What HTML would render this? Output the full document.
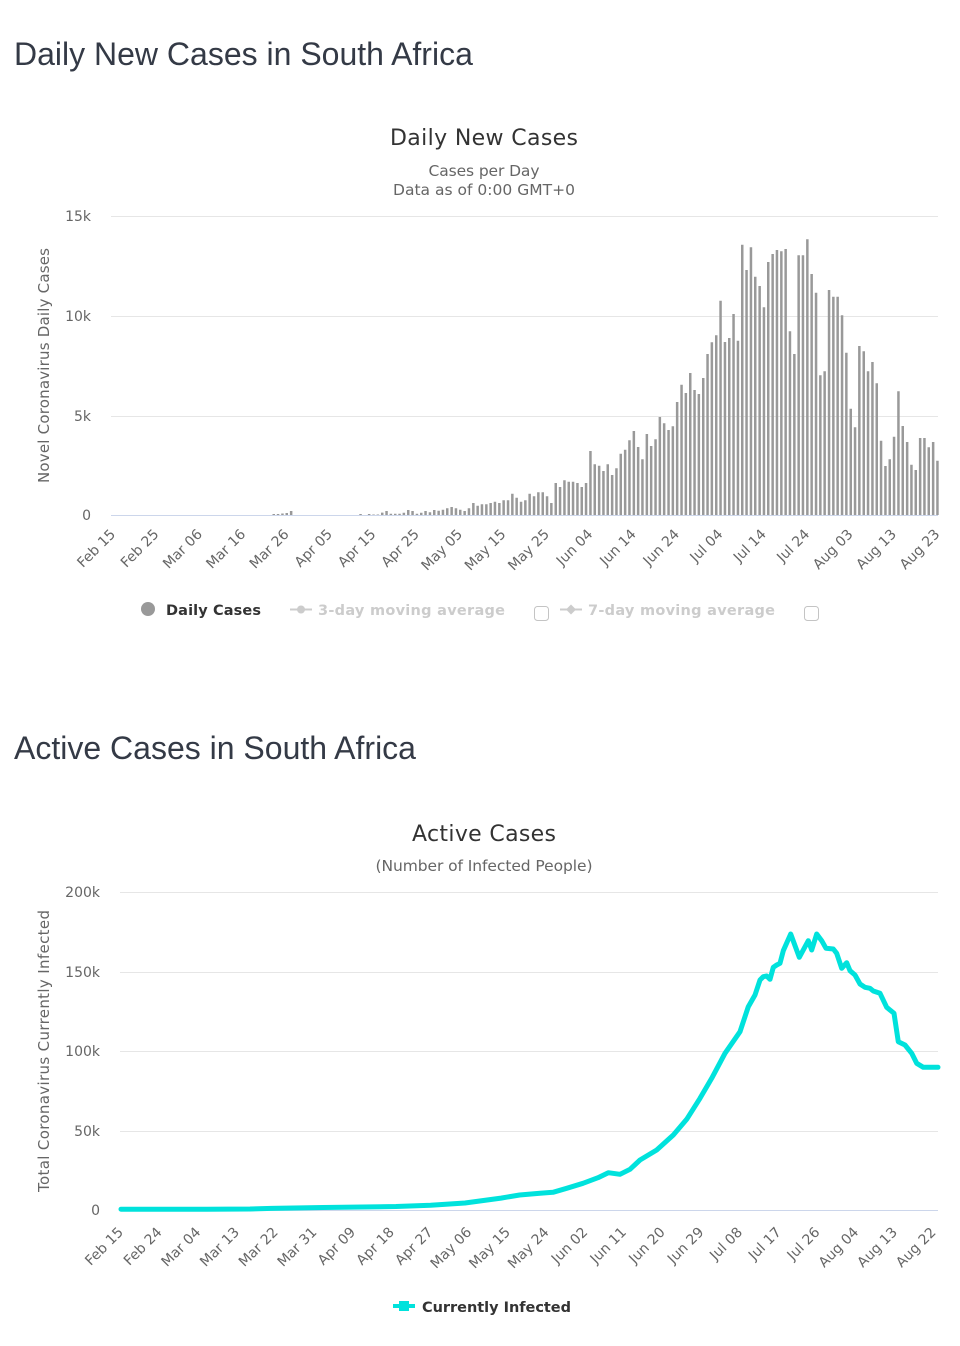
<!DOCTYPE html>
<html><head><meta charset="utf-8"><style>
html,body{margin:0;padding:0;background:#fff;}
svg{display:block;}
.pt{font-family:"Liberation Sans",Arial,sans-serif;font-size:32px;fill:#343a46;}
.ct{font-family:"DejaVu Sans","Liberation Sans",sans-serif;font-size:22px;fill:#333;}
.st{font-family:"DejaVu Sans","Liberation Sans",sans-serif;font-size:15.5px;fill:#666;}
.yl{font-family:"DejaVu Sans","Liberation Sans",sans-serif;font-size:14px;fill:#666;}
.xl{font-family:"DejaVu Sans","Liberation Sans",sans-serif;font-size:14px;fill:#666;}
.at{font-family:"DejaVu Sans","Liberation Sans",sans-serif;font-size:15px;fill:#666;}
.lg{font-family:"DejaVu Sans","Liberation Sans",sans-serif;font-size:14.5px;font-weight:bold;fill:#333;}
.lgi{font-family:"DejaVu Sans","Liberation Sans",sans-serif;font-size:14.5px;font-weight:bold;fill:#ccc;}
</style></head><body>
<svg width="960" height="1346" viewBox="0 0 960 1346" xmlns="http://www.w3.org/2000/svg">
<rect width="960" height="1346" fill="#fff"/>

<!-- Chart 1 -->
<text class="pt" x="14" y="65">Daily New Cases in South Africa</text>
<text class="ct" x="484" y="145" text-anchor="middle" textLength="188">Daily New Cases</text>
<text class="st" x="484" y="176" text-anchor="middle" textLength="111">Cases per Day</text>
<text class="st" x="484" y="195" text-anchor="middle" textLength="182">Data as of 0:00 GMT+0</text>

<g stroke="#e6e6e6" stroke-width="1">
<line x1="111" y1="216.5" x2="938" y2="216.5"/>
<line x1="111" y1="316.5" x2="938" y2="316.5"/>
<line x1="111" y1="416.5" x2="938" y2="416.5"/>
</g>
<g class="yl" text-anchor="end">
<text x="91" y="221">15k</text>
<text x="91" y="321">10k</text>
<text x="91" y="421">5k</text>
<text x="91" y="520">0</text>
</g>
<text class="at" x="0" y="0" text-anchor="middle" transform="translate(49 365.5) rotate(-90)" textLength="235">Novel Coronavirus Daily Cases</text>

<path fill="#999" d="M272.5 515V514h2.5V515zM276.8 515V514h2.5V515zM281.2 515V513.5h2.5V515zM285.5 515V513h2.5V515zM289.9 515V511h2.5V515z
M359.3 515V514h2.5V515zM367.9 515V514h2.5V515zM372.3 515V514.5h2.5V515zM376.6 515V514.5h2.5V515zM381 515V512.6h2.5V515zM385.3 515V511h2.5V515zM389.6 515V513.7h2.5V515zM394 515V513.7h2.5V515zM398.3 515V513.7h2.5V515zM402.6 515V512.7h2.5V515zM407 515V510h2.5V515zM411.3 515V511h2.5V515zM415.7 515V513.7h2.5V515zM420 515V512.7h2.5V515zM424.3 515V511h2.5V515zM428.7 515V512.3h2.5V515zM433 515V510h2.5V515zM437.4 515V510.7h2.5V515zM441.7 515V509.7h2.5V515zM446 515V508.3h2.5V515zM450.4 515V507h2.5V515zM454.7 515V508.3h2.5V515zM459 515V509.7h2.5V515zM463.4 515V511h2.5V515zM467.7 515V508.3h2.5V515z
M472.1 515V503h2.5V515zM476.4 515V505.7h2.5V515zM480.7 515V504.3h2.5V515zM485.1 515V504.3h2.5V515zM489.4 515V503h2.5V515zM493.7 515V501.7h2.5V515zM498.1 515V503h2.5V515zM502.4 515V500.3h2.5V515zM506.8 515V500.3h2.5V515zM511.1 515V493.7h2.5V515zM515.4 515V497.7h2.5V515zM519.8 515V501.7h2.5V515zM524.1 515V500.3h2.5V515zM528.4 515V493.7h2.5V515zM532.8 515V496.3h2.5V515zM537.1 515V492.3h2.5V515zM541.5 515V492.3h2.5V515zM545.8 515V496.3h2.5V515zM550.1 515V503h2.5V515z
M554.5 515V483h2.5V515zM558.8 515V487h2.5V515zM563.2 515V480.3h2.5V515zM567.5 515V481.7h2.5V515zM571.8 515V481.7h2.5V515zM576.2 515V483h2.5V515zM580.5 515V487h2.5V515zM584.8 515V483h2.5V515zM589.2 515V451h2.5V515zM593.5 515V464.3h2.5V515zM597.9 515V465.7h2.5V515zM602.2 515V471h2.5V515zM606.5 515V464.3h2.5V515zM610.9 515V475h2.5V515zM615.2 515V468.3h2.5V515zM619.5 515V453.7h2.5V515zM623.9 515V449.7h2.5V515zM628.2 515V440.3h2.5V515zM632.6 515V431h2.5V515zM636.9 515V447h2.5V515z
M641.2 515V459.3h2.5V515zM645.6 515V434h2.5V515zM649.9 515V446h2.5V515zM654.3 515V439.3h2.5V515zM658.6 515V417h2.5V515zM662.9 515V423.3h2.5V515zM667.3 515V430h2.5V515zM671.6 515V426.3h2.5V515zM675.9 515V402h2.5V515zM680.3 515V384.7h2.5V515zM684.6 515V393h2.5V515zM689 515V373h2.5V515zM693.3 515V390h2.5V515zM697.6 515V394h2.5V515zM702 515V378h2.5V515zM706.3 515V354h2.5V515zM710.6 515V342.3h2.5V515zM715 515V335.3h2.5V515zM719.3 515V300.7h2.5V515zM723.7 515V342h2.5V515zM728 515V338h2.5V515zM732.3 515V314h2.5V515zM736.7 515V340.7h2.5V515z
M741 515V244.7h2.5V515zM745.3 515V270h2.5V515zM749.7 515V247.3h2.5V515zM754 515V276.7h2.5V515zM758.4 515V286h2.5V515zM762.7 515V307.3h2.5V515zM767 515V262h2.5V515zM771.4 515V254h2.5V515zM775.7 515V250h2.5V515zM780.1 515V251.3h2.5V515zM784.4 515V249h2.5V515zM788.7 515V331.3h2.5V515zM793.1 515V354h2.5V515zM797.4 515V255.3h2.5V515zM801.7 515V255.3h2.5V515zM806.1 515V239.3h2.5V515zM810.4 515V274h2.5V515zM814.8 515V292.7h2.5V515zM819.1 515V375.3h2.5V515zM823.4 515V371.3h2.5V515z
M827.8 515V290h2.5V515zM832.1 515V296.7h2.5V515zM836.4 515V296.7h2.5V515zM840.8 515V315.3h2.5V515zM845.1 515V352.7h2.5V515zM849.5 515V408.7h2.5V515zM853.8 515V427.3h2.5V515zM858.1 515V346h2.5V515zM862.5 515V351.3h2.5V515zM866.8 515V371.3h2.5V515zM871.2 515V362h2.5V515zM875.5 515V383.3h2.5V515zM879.8 515V440.7h2.5V515zM884.2 515V466h2.5V515zM888.5 515V459.3h2.5V515zM892.8 515V436.7h2.5V515zM897.2 515V391.3h2.5V515zM901.5 515V426h2.5V515zM905.9 515V442h2.5V515zM910.2 515V464.7h2.5V515zM914.5 515V470h2.5V515zM918.9 515V438h2.5V515zM923.2 515V438h2.5V515zM927.5 515V447.3h2.5V515zM931.9 515V442h2.5V515zM936.2 515V460.7h2.5V515z"/>

<line x1="111" y1="515.5" x2="938" y2="515.5" stroke="#ccd6eb" stroke-width="1"/>

<g class="xl" text-anchor="end">
<text x="116.2" y="535" transform="rotate(-45 116.2 535)">Feb 15</text>
<text x="159.6" y="535" transform="rotate(-45 159.6 535)">Feb 25</text>
<text x="203" y="535" transform="rotate(-45 203 535)">Mar 06</text>
<text x="246.3" y="535" transform="rotate(-45 246.3 535)">Mar 16</text>
<text x="289.7" y="535" transform="rotate(-45 289.7 535)">Mar 26</text>
<text x="333.1" y="535" transform="rotate(-45 333.1 535)">Apr 05</text>
<text x="376.5" y="535" transform="rotate(-45 376.5 535)">Apr 15</text>
<text x="419.9" y="535" transform="rotate(-45 419.9 535)">Apr 25</text>
<text x="463.2" y="535" transform="rotate(-45 463.2 535)">May 05</text>
<text x="506.6" y="535" transform="rotate(-45 506.6 535)">May 15</text>
<text x="550" y="535" transform="rotate(-45 550 535)">May 25</text>
<text x="593.4" y="535" transform="rotate(-45 593.4 535)">Jun 04</text>
<text x="636.8" y="535" transform="rotate(-45 636.8 535)">Jun 14</text>
<text x="680.1" y="535" transform="rotate(-45 680.1 535)">Jun 24</text>
<text x="723.5" y="535" transform="rotate(-45 723.5 535)">Jul 04</text>
<text x="766.9" y="535" transform="rotate(-45 766.9 535)">Jul 14</text>
<text x="810.3" y="535" transform="rotate(-45 810.3 535)">Jul 24</text>
<text x="853.7" y="535" transform="rotate(-45 853.7 535)">Aug 03</text>
<text x="897" y="535" transform="rotate(-45 897 535)">Aug 13</text>
<text x="940.4" y="535" transform="rotate(-45 940.4 535)">Aug 23</text>
</g>

<!-- Legend 1 -->
<circle cx="148" cy="609" r="7" fill="#999"/>
<text class="lg" x="166" y="615" textLength="95">Daily Cases</text>
<line x1="290" y1="609.5" x2="312" y2="609.5" stroke="#ccc" stroke-width="2"/>
<circle cx="301" cy="609.5" r="4" fill="#ccc"/>
<text class="lgi" x="318" y="615" textLength="187">3-day moving average</text>
<rect x="534.5" y="606.5" width="14" height="14" rx="3" fill="#fff" stroke="#c4c4c4" stroke-width="1"/>
<line x1="560" y1="609.5" x2="582" y2="609.5" stroke="#ccc" stroke-width="2"/>
<path d="M571 604.5L576 609.5L571 614.5L566 609.5Z" fill="#ccc"/>
<text class="lgi" x="588" y="615" textLength="187">7-day moving average</text>
<rect x="804.5" y="606.5" width="14" height="14" rx="3" fill="#fff" stroke="#c4c4c4" stroke-width="1"/>

<!-- Chart 2 -->
<text class="pt" x="14" y="759">Active Cases in South Africa</text>
<text class="ct" x="484" y="841" text-anchor="middle" textLength="144">Active Cases</text>
<text class="st" x="484" y="871" text-anchor="middle" textLength="217">(Number of Infected People)</text>

<g stroke="#e6e6e6" stroke-width="1">
<line x1="120" y1="892.5" x2="938" y2="892.5"/>
<line x1="120" y1="972.5" x2="938" y2="972.5"/>
<line x1="120" y1="1051.5" x2="938" y2="1051.5"/>
<line x1="120" y1="1131.5" x2="938" y2="1131.5"/>
</g>
<g class="yl" text-anchor="end">
<text x="100" y="897">200k</text>
<text x="100" y="977">150k</text>
<text x="100" y="1056">100k</text>
<text x="100" y="1136">50k</text>
<text x="100" y="1215">0</text>
</g>
<text class="at" x="0" y="0" text-anchor="middle" transform="translate(49 1051) rotate(-90)" textLength="282">Total Coronavirus Currently Infected</text>

<line x1="120" y1="1210.5" x2="938" y2="1210.5" stroke="#ccd6eb" stroke-width="1"/>

<path fill="none" stroke="#00e2dc" stroke-width="5" stroke-linejoin="round" stroke-linecap="round"
d="M121 1209.2L207 1209.2L250 1209L271.5 1208.4L323 1207.5L396 1206.5L430.6 1205.2L465 1203L501 1198.1L519.6 1195L540 1193.3L553 1192.3L566.7 1188.3L583 1183.3L598 1177.7L608.3 1172.7L620 1174.3L630 1169.3L640 1160L656.7 1150L673.3 1135L686.7 1119.3L700 1098.3L711.7 1078.3L725 1053.3L740 1031.7L748.3 1006.7L755 995L760 980L763.3 976.7L766.7 976L770 979.3L773.3 967.3L776.7 965L780 963.3L783.3 950.7L790.7 934L799.3 957.3L808.3 940.7L811.7 950L816.7 934L821.7 940.7L826 948.3L833.3 949L836.7 953.3L841.7 968.3L846.7 962.7L850 970.7L855 975L860 984L865 987.3L870 988.3L873.3 991L880 993.3L886.7 1007.3L894 1013.3L898.3 1041.7L905 1045L911.7 1053.3L916.7 1063.3L923.3 1067.3L930 1067.3L938 1067.3"/>

<g class="xl" text-anchor="end">
<text x="124" y="1233" transform="rotate(-45 124 1233)">Feb 15</text>
<text x="162.7" y="1233" transform="rotate(-45 162.7 1233)">Feb 24</text>
<text x="201.4" y="1233" transform="rotate(-45 201.4 1233)">Mar 04</text>
<text x="240.1" y="1233" transform="rotate(-45 240.1 1233)">Mar 13</text>
<text x="278.8" y="1233" transform="rotate(-45 278.8 1233)">Mar 22</text>
<text x="317.5" y="1233" transform="rotate(-45 317.5 1233)">Mar 31</text>
<text x="356.2" y="1233" transform="rotate(-45 356.2 1233)">Apr 09</text>
<text x="394.9" y="1233" transform="rotate(-45 394.9 1233)">Apr 18</text>
<text x="433.6" y="1233" transform="rotate(-45 433.6 1233)">Apr 27</text>
<text x="472.3" y="1233" transform="rotate(-45 472.3 1233)">May 06</text>
<text x="511" y="1233" transform="rotate(-45 511 1233)">May 15</text>
<text x="549.7" y="1233" transform="rotate(-45 549.7 1233)">May 24</text>
<text x="588.4" y="1233" transform="rotate(-45 588.4 1233)">Jun 02</text>
<text x="627.1" y="1233" transform="rotate(-45 627.1 1233)">Jun 11</text>
<text x="665.8" y="1233" transform="rotate(-45 665.8 1233)">Jun 20</text>
<text x="704.5" y="1233" transform="rotate(-45 704.5 1233)">Jun 29</text>
<text x="743.2" y="1233" transform="rotate(-45 743.2 1233)">Jul 08</text>
<text x="781.9" y="1233" transform="rotate(-45 781.9 1233)">Jul 17</text>
<text x="820.6" y="1233" transform="rotate(-45 820.6 1233)">Jul 26</text>
<text x="859.3" y="1233" transform="rotate(-45 859.3 1233)">Aug 04</text>
<text x="898" y="1233" transform="rotate(-45 898 1233)">Aug 13</text>
<text x="936.7" y="1233" transform="rotate(-45 936.7 1233)">Aug 22</text>
</g>

<!-- Legend 2 -->
<line x1="393" y1="1306" x2="415" y2="1306" stroke="#00e2dc" stroke-width="4"/>
<rect x="399" y="1301" width="10" height="10" fill="#00e2dc"/>
<text class="lg" x="422" y="1312" textLength="149">Currently Infected</text>
</svg>
</body></html>
